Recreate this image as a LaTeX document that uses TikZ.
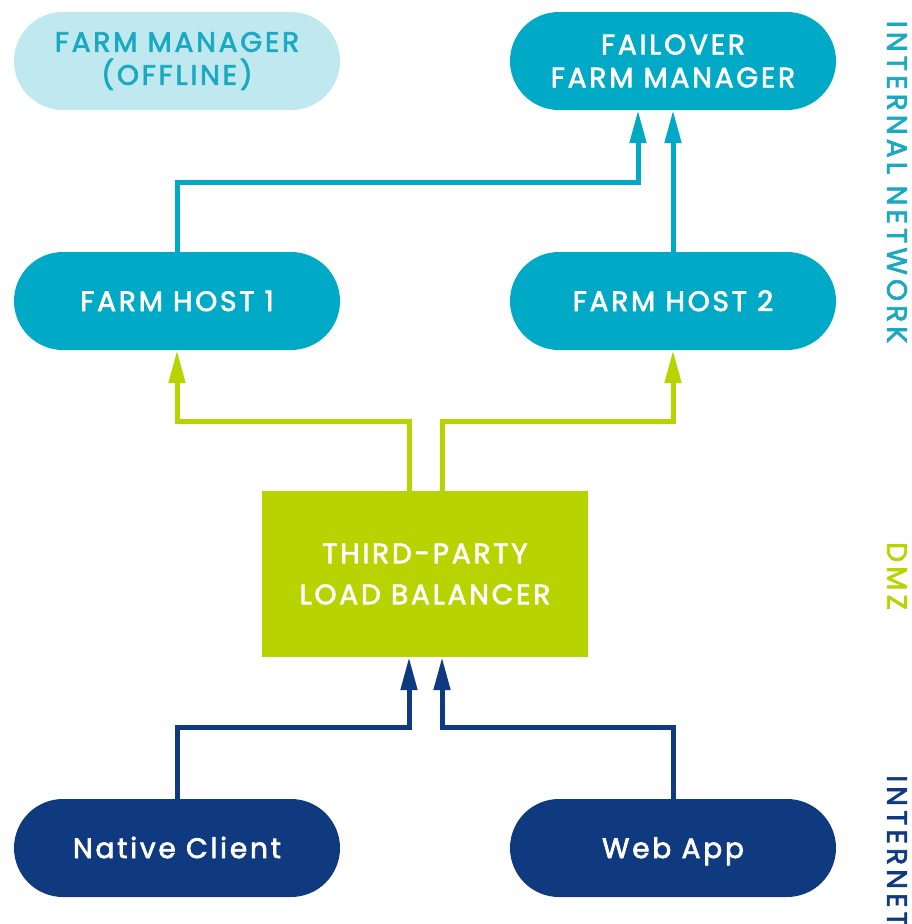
\documentclass[tikz,border=0pt]{standalone}
\usepackage{fontspec}
\setmainfont{Poppins}[LetterSpace=10,FakeBold=2.5]
\usetikzlibrary{arrows.meta}
\definecolor{cy}{HTML}{00A9C6}
\definecolor{lcy}{HTML}{BFE9EF}
\definecolor{cytext}{HTML}{1AA8C3}
\definecolor{gr}{HTML}{B8D400}
\definecolor{nv}{HTML}{0F3A80}
\tikzset{
  pill/.style={rectangle, rounded corners=49pt, minimum width=326pt, minimum height=98pt,
    inner sep=0pt, align=center, text=white, font=\fontsize{28}{33}\selectfont},
  onepill/.style={pill, text height=20pt, text depth=0pt},
  cypill/.style={pill, fill=cy},
  offpill/.style={pill, fill=lcy, text=cytext},
  nvpill/.style={onepill, fill=nv},
  lbbox/.style={rectangle, fill=gr, minimum width=326pt, minimum height=166pt, inner sep=0pt,
    align=center, text=white, font=\fontsize{28}{41}\selectfont},
  conn/.style={line width=5pt, -{Triangle[width=16pt,length=33pt]}},
  side/.style={rotate=-90, inner sep=0pt, font=\fontsize{28}{33}\selectfont\addfontfeatures{LetterSpace=15}}
}
\begin{document}
\begin{tikzpicture}[x=1pt,y=-1pt]
\useasboundingbox (0,0) rectangle (912,924);
\node[offpill] (fmo) at (177,61) {FARM MANAGER\\(OFFLINE)};
\node[cypill] (fm) at (673,61) {FAILOVER\\FARM MANAGER};
\node[cypill, onepill] (h1) at (177,301) {FARM HOST 1};
\node[cypill, onepill] (h2) at (673,301) {FARM HOST 2};
\node[lbbox] (lb) at (425,574) {THIRD-PARTY\\LOAD BALANCER};
\node[nvpill] (nc) at (177,848) {Native Client};
\node[nvpill] (wa) at (673,848) {Web App};
\draw[conn, cy] (h1.north) -- ++(0,-69) -| ([xshift=-35pt]fm.south);
\draw[conn, cy] (h2.north) -- (fm.south);
\draw[conn, gr] ([xshift=-16pt]lb.north) -- ++(0,-69) -| (h1.south);
\draw[conn, gr] ([xshift=17pt]lb.north) -- ++(0,-69) -| (h2.south);
\draw[conn, nv] (nc.north) -- ++(0,-71) -| ([xshift=-16pt]lb.south);
\draw[conn, nv] (wa.north) -- ++(0,-71) -| ([xshift=17pt]lb.south);
\node[side, text=cytext] (lin) at (897,182) {INTERNAL NETWORK};
\node[side, text=gr] (ldmz) at (897,576) {DMZ};
\node[side, text=nv, anchor=west] (lint) at (897,775) {INTERNET};
\end{tikzpicture}
\end{document}
